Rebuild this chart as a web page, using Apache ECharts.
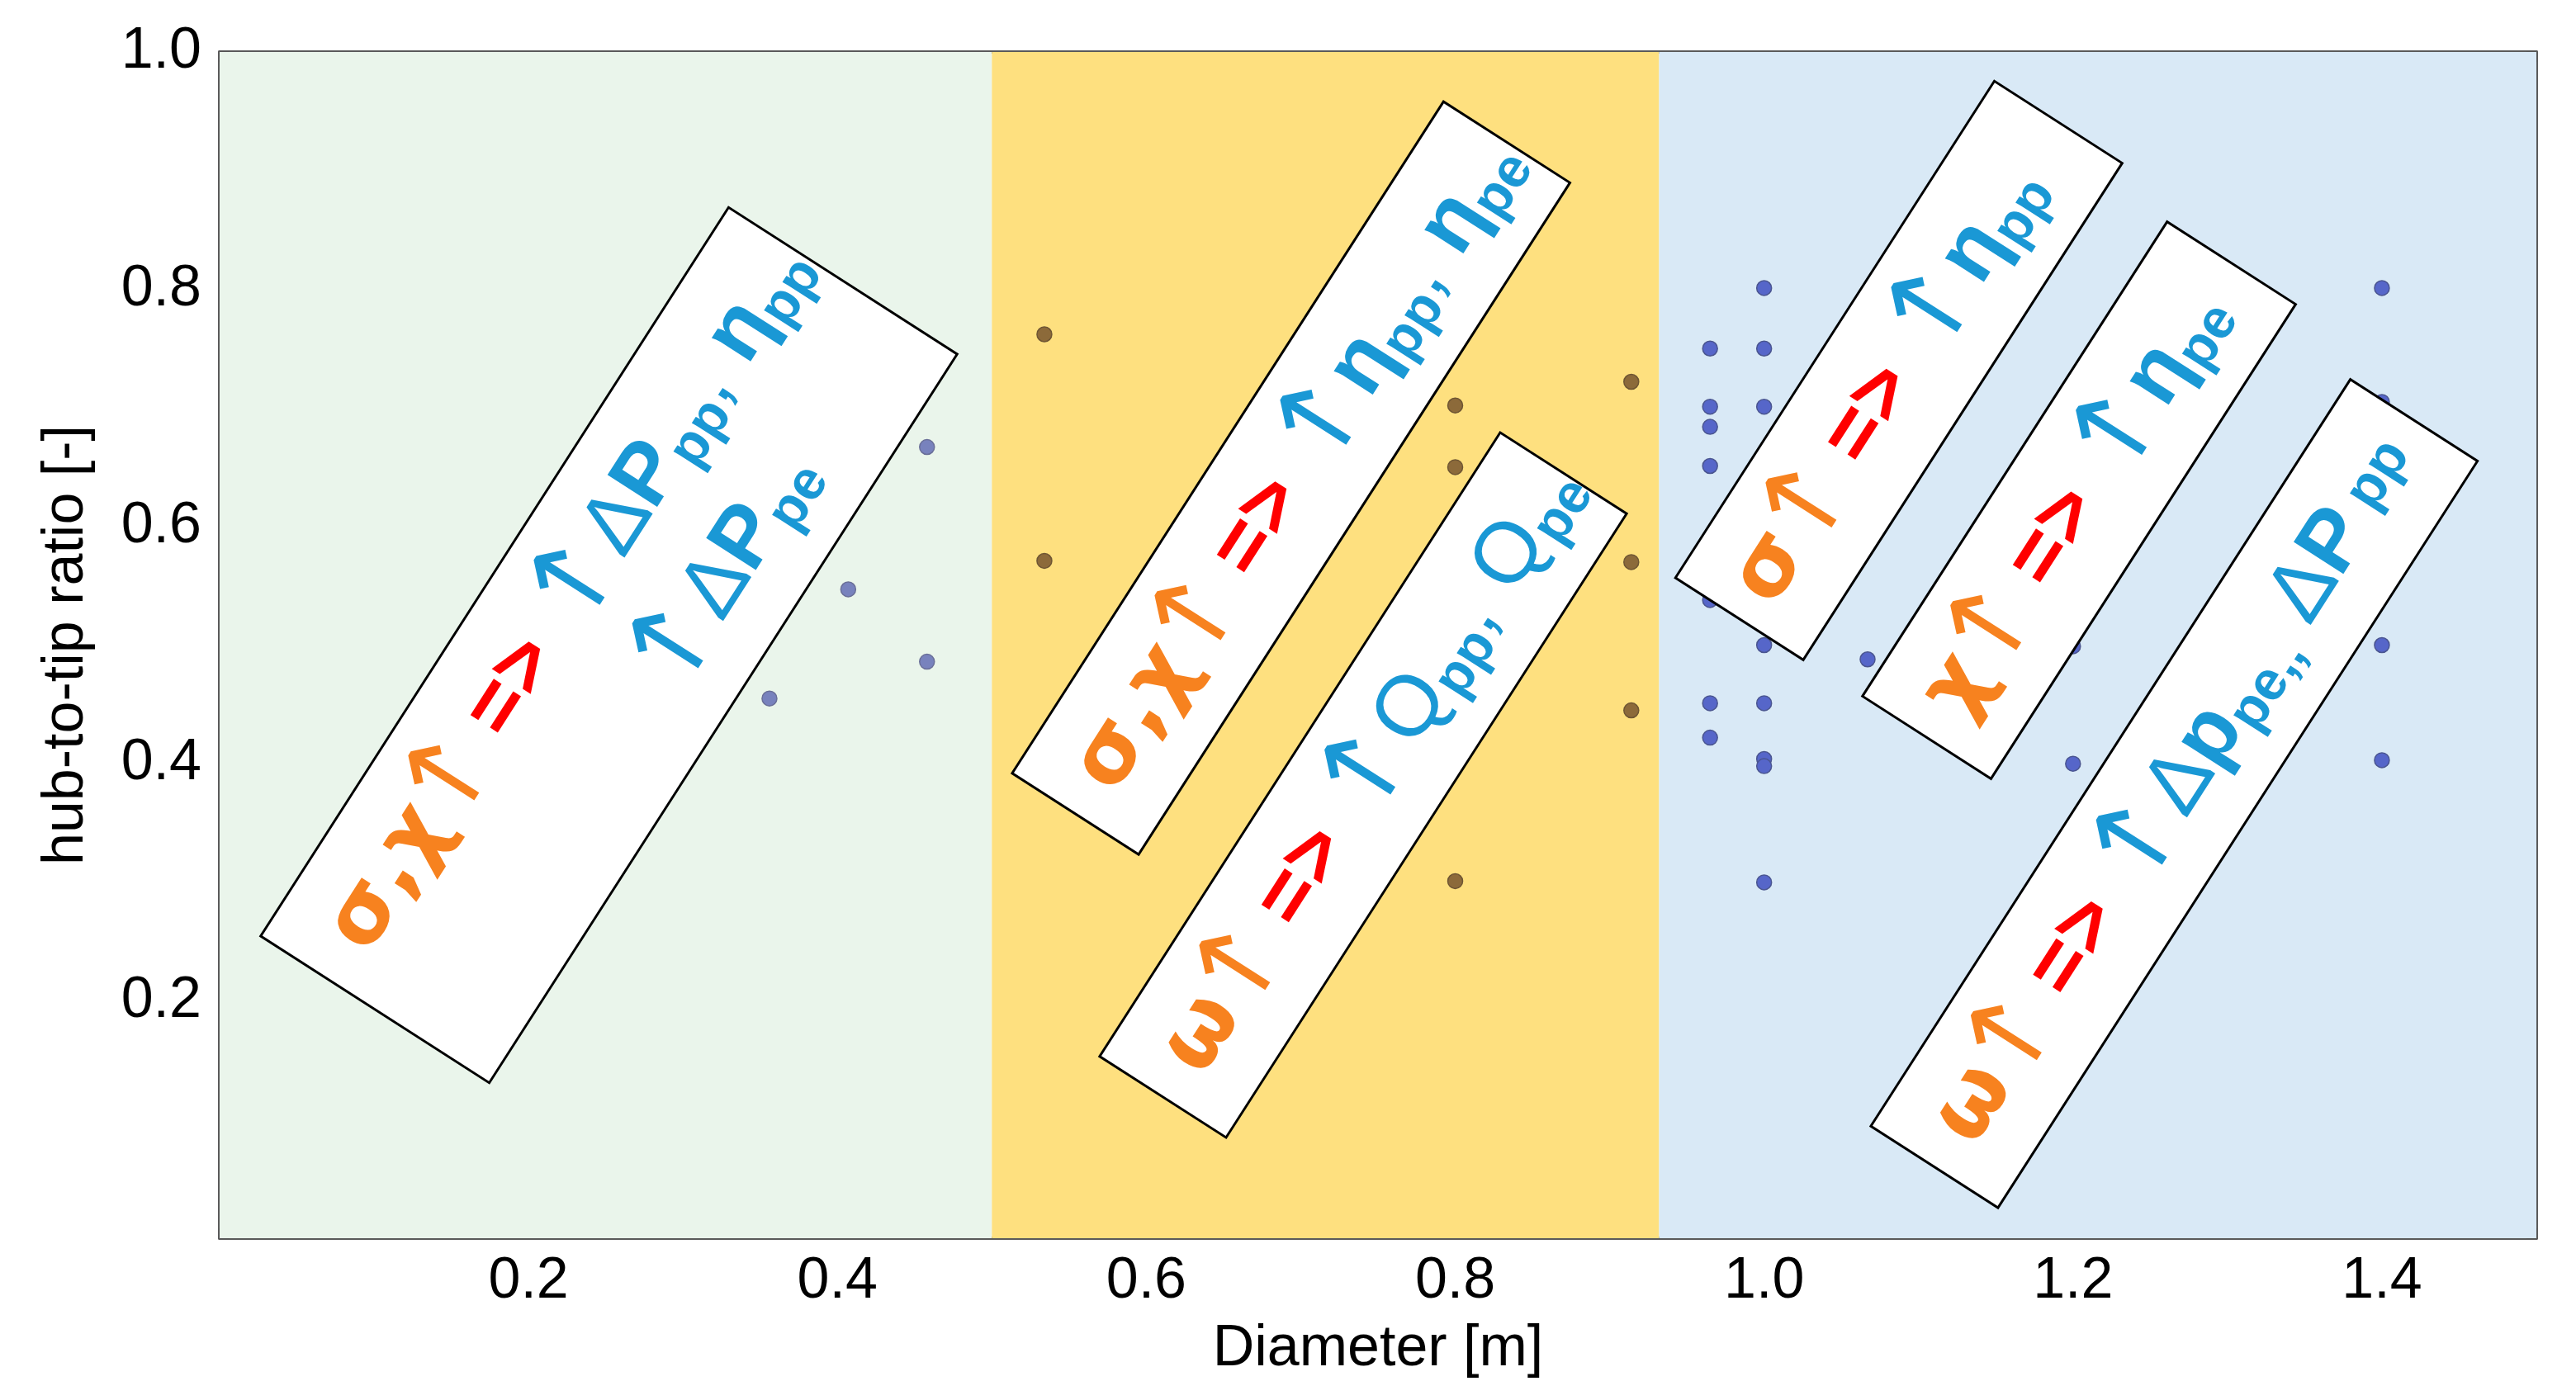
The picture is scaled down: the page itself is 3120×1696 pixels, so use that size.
<!DOCTYPE html>
<html><head><meta charset="utf-8">
<script src="https://cdn.jsdelivr.net/npm/echarts@6/dist/echarts.min.js"></script>
<style>html,body{margin:0;padding:0;background:#fff}#c{width:3120px;height:1696px}</style>
</head><body><div id="c"></div>
<script>
// ---- data ----
const regionBreaks = [0, 0.5, 0.932, 1.5];
const regionColors = ['#eaf5eb', '#fee07f', '#d9e9f6'];
const greenDiameter = [0.356, 0.407, 0.458, 0.458];
const greenRatio    = [0.455, 0.547, 0.667, 0.486];
const yellowDiameter = [0.534, 0.534, 0.800, 0.800, 0.800, 0.914, 0.914, 0.914];
const yellowRatio    = [0.762, 0.571, 0.702, 0.650, 0.301, 0.722, 0.570, 0.445];
const blueDiameter = [0.965, 0.965, 0.965, 0.965, 0.965, 0.965, 0.965,
                      1.0, 1.0, 1.0, 1.0, 1.0, 1.0, 1.0, 1.0,
                      1.067, 1.2, 1.2, 1.4, 1.4, 1.4, 1.4];
const blueRatio    = [0.750, 0.701, 0.684, 0.651, 0.538, 0.451, 0.422,
                      0.801, 0.750, 0.701, 0.500, 0.451, 0.404, 0.398, 0.300,
                      0.488, 0.499, 0.400, 0.801, 0.705, 0.500, 0.403];
const xTickLabels = ['0.2', '0.4', '0.6', '0.8', '1.0', '1.2', '1.4'];
const yTickLabels = ['0.2', '0.4', '0.6', '0.8', '1.0'];

// ---- annotation boxes (pixel layout) ----
const F = 104, FA = 132, AW = 92, BAW = 112;
const boxLines = [
  ['{ob|σ,χ}{o|↑} {r|=>} {ba|↑}{b|Δ}{bb|P}{s|pp}{b|, }{bb|η}{s|pp}', '{ba|↑}{b|Δ}{bb|P}{s|pe}'],
  ['{ob|σ,χ}{o|↑} {r|=>} {ba|↑}{bb|η}{s|pp}{b|, }{bb|η}{s|pe}'],
  ['{ob|ω}{o|↑} {r|=>} {ba|↑}{b|Q}{s|pp}{b|, Q}{s|pe}'],
  ['{ob|σ}{o|↑} {r|=>} {ba|↑}{bb|η}{s|pp}'],
  ['{ob|χ}{o|↑} {r|=>} {ba|↑}{bb|η}{s|pe}'],
  ['{ob|ω}{o|↑} {r|=>} {ba|↑}{b|Δ}{bb|p}{s|pe,,}{b| Δ}{bb|P}{t| pp}']
];
const boxGeom = [
  {cx: 737.5, cy: 781.5, L: 1049, W: 329, pad: 50, v: [-70, 72]},
  {cx: 1563.7, cy: 579.1, L: 967, W: 182, pad: 44, v: [0]},
  {cx: 1651, cy: 951, L: 898, W: 182, pad: 45, v: [0]},
  {cx: 2299.8, cy: 448.8, L: 715, W: 184, pad: 32, v: [0]},
  {cx: 2518.1, cy: 606, L: 683, W: 185, pad: 40, v: [0]},
  {cx: 2633.3, cy: 961.4, L: 1075, W: 183, pad: 45, v: [0]}
];
const angle = 57.3 * Math.PI / 180;

const FONT = '"Liberation Sans", Arial, sans-serif';
const GFONT = '"DejaVu Sans", sans-serif';
const ORANGE = '#f7821f', RED = '#ff0000', BLUE = '#1a98d5';
const st = (fill, size, family, weight, extra) => Object.assign({fill: fill, color: fill, fontSize: size, fontFamily: family, fontWeight: weight}, extra || {});
const rich = {
  ob: st(ORANGE, F, GFONT, 'bold'),
  o:  st(ORANGE, FA, GFONT, 'normal', {width: AW, align: 'center'}),
  r:  st(RED, F, FONT, 'bold'),
  ba: st(BLUE, FA, GFONT, 'normal', {width: BAW, align: 'center'}),
  b:  st(BLUE, F, FONT, 'normal'),
  bb: st(BLUE, F, FONT, 'bold'),
  s:  st(BLUE, Math.round(F * 0.64), FONT, 'bold', {padding: [Math.round(F * 0.5), 0, 0, 0]}),
  t:  st(BLUE, Math.round(F * 0.66), FONT, 'bold')
};

function pairs(xs, ys) { return xs.map((x, i) => [x, ys[i]]); }

const chart = echarts.init(document.getElementById('c'), null, {renderer: 'canvas'});
const mkLine = () => ({show: true, onZero: false, lineStyle: {color: '#5a5a5a', width: 4}});
const mkTick = () => ({show: true, inside: true, length: 12, lineStyle: {color: '#555', width: 2}});
const lblFmt = (list) => (v) => { const s = v.toFixed(1); return list.indexOf(s) >= 0 ? s : ''; };

chart.setOption({
  backgroundColor: '#ffffff',
  animation: false,
  grid: {left: 266, right: 48, top: 63, bottom: 196, show: false},
  xAxis: [
    {type: 'value', min: 0, max: 1.5, interval: 0.2, position: 'bottom',
     axisLine: mkLine(), axisTick: mkTick(), splitLine: {show: false},
     axisLabel: {fontSize: 70, color: '#000', fontFamily: FONT, margin: 18, formatter: lblFmt(xTickLabels)},
     name: 'Diameter [m]', nameLocation: 'middle', nameGap: 100,
     nameTextStyle: {fontSize: 70, color: '#000', fontFamily: FONT}},
    {type: 'value', min: 0, max: 1.5, interval: 0.2, position: 'top',
     axisLine: mkLine(), axisTick: mkTick(), axisLabel: {show: false}, splitLine: {show: false}}
  ],
  yAxis: [
    {type: 'value', min: 0, max: 1.0, interval: 0.2, position: 'left',
     axisLine: mkLine(), axisTick: mkTick(), splitLine: {show: false},
     axisLabel: {fontSize: 70, color: '#000', fontFamily: FONT, margin: 22, formatter: lblFmt(yTickLabels)},
     name: 'hub-to-tip ratio [-]', nameLocation: 'middle', nameGap: 150,
     nameTextStyle: {fontSize: 70, color: '#000', fontFamily: FONT}},
    {type: 'value', min: 0, max: 1.0, interval: 0.2, position: 'right',
     axisLine: mkLine(), axisTick: mkTick(), axisLabel: {show: false}, splitLine: {show: false}}
  ],
  series: [
    {type: 'scatter', data: [], z: 1, silent: true,
     markArea: {silent: true, data: regionColors.map((c, i) => [
       {xAxis: regionBreaks[i], yAxis: 0, itemStyle: {color: c, opacity: 1}},
       {xAxis: regionBreaks[i + 1], yAxis: 1}
     ])}},
    {type: 'scatter', z: 3, symbolSize: 18, data: pairs(greenDiameter, greenRatio),
     itemStyle: {color: '#7882bd', borderColor: '#6a6f98', borderWidth: 1.5, opacity: 1}},
    {type: 'scatter', z: 3, symbolSize: 18, data: pairs(yellowDiameter, yellowRatio),
     itemStyle: {color: '#8c6a3a', borderColor: '#6e5533', borderWidth: 1.5, opacity: 1}},
    {type: 'scatter', z: 3, symbolSize: 18, data: pairs(blueDiameter, blueRatio),
     itemStyle: {color: '#5666c9', borderColor: '#4a5590', borderWidth: 1.5, opacity: 1}}
  ]
});

try {
  const mctx = document.createElement('canvas').getContext('2d');
  const tw = (str, weight, size, fam) => { mctx.font = weight + ' ' + size + 'px ' + fam; return mctx.measureText(str).width; };
  const prefixW = tw('σ,χ', 'bold', F, GFONT) + AW + tw(' ', 'normal', F, FONT) + tw('=>', 'bold', F, FONT) + tw(' ', 'normal', F, FONT);
  const elements = [];
  boxGeom.forEach((g, i) => {
    const children = [{
      type: 'rect', z: 50,
      shape: {x: -g.L / 2, y: -g.W / 2, width: g.L, height: g.W},
      style: {fill: '#ffffff', stroke: '#000000', lineWidth: 3}
    }];
    boxLines[i].forEach((txt, j) => {
      children.push({
        type: 'text', z: 51,
        x: -g.L / 2 + g.pad + (j === 1 ? prefixW : 0), y: g.v[j],
        style: {text: txt, rich: rich, fontSize: F, fontFamily: FONT, fill: BLUE,
                align: 'left', verticalAlign: 'middle'}
      });
    });
    elements.push({type: 'group', id: 'box' + i, x: g.cx, y: g.cy, rotation: angle, children: children});
  });
  chart.setOption({graphic: {elements: elements}});
} catch (e) {
  chart.setOption({title: {text: 'ERR: ' + e.message, textStyle: {fontSize: 40, color: 'red'}}});
}
</script></body></html>
